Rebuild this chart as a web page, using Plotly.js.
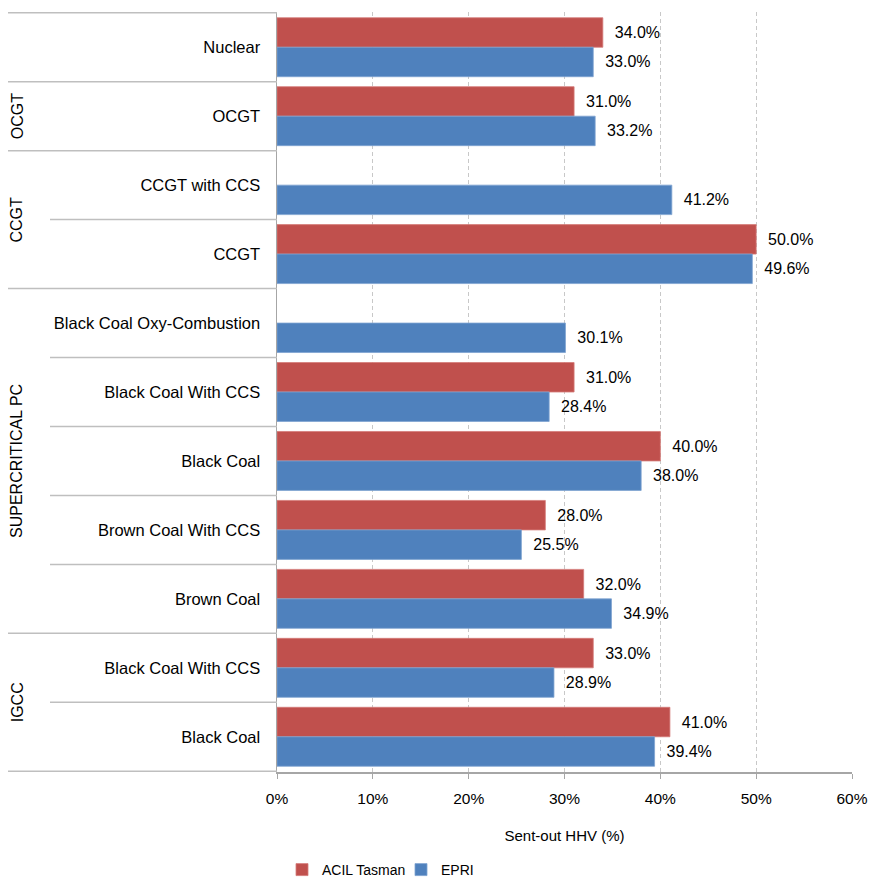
<!DOCTYPE html>
<html>
<head>
<meta charset="utf-8">
<script src="https://cdn.plot.ly/plotly-3.0.1.min.js"></script>
<style>html,body{margin:0;padding:0;background:#fff;}#chart{width:872px;height:877px;}</style>
</head>
<body>
<div id="chart"></div>
<script>
// ---- Data ----
const categories = ['Nuclear', 'OCGT', 'CCGT with CCS', 'CCGT', 'Black Coal Oxy-Combustion',
  'Black Coal With CCS', 'Black Coal', 'Brown Coal With CCS', 'Brown Coal',
  'Black Coal With CCS', 'Black Coal'];
const groups = ['', 'OCGT', 'CCGT', 'CCGT', 'SUPERCRITICAL PC', 'SUPERCRITICAL PC',
  'SUPERCRITICAL PC', 'SUPERCRITICAL PC', 'SUPERCRITICAL PC', 'IGCC', 'IGCC'];
const acilTasman = [34.0, 31.0, null, 50.0, null, 31.0, 40.0, 28.0, 32.0, 33.0, 41.0];
const epri = [33.0, 33.2, 41.2, 49.6, 30.1, 28.4, 38.0, 25.5, 34.9, 28.9, 39.4];
const xTicks = [0, 10, 20, 30, 40, 50, 60];

// unique keys for the category axis
const keys = categories.map((c, i) => groups[i] + ' | ' + c);

const FONT = 'Liberation Sans, Arial, sans-serif';
const RED = '#C0504D', BLUE = '#4F81BD';

const traces = [
  {
    type: 'bar', orientation: 'h', name: 'ACIL Tasman',
    y: keys, x: acilTasman,
    marker: {color: RED, line: {color: '#D47B78', width: 0.8}},
    texttemplate: '\u00a0\u00a0%{x:.1f}%', textposition: 'outside', cliponaxis: false,
    textfont: {family: FONT, size: 16, color: '#000'}, hoverinfo: 'x+y'
  },
  {
    type: 'bar', orientation: 'h', name: 'EPRI',
    y: keys, x: epri,
    marker: {color: BLUE, line: {color: '#7FA3D1', width: 0.8}},
    texttemplate: '\u00a0\u00a0%{x:.1f}%', textposition: 'outside', cliponaxis: false,
    textfont: {family: FONT, size: 16, color: '#000'}, hoverinfo: 'x+y'
  }
];

// separators and group labels
const plotLeft = 277, plotW = 575;
const pxToPaper = px => (px - plotLeft) / plotW;
const shapes = [];
const n = categories.length;
for (let i = 0; i <= n; i++) {
  const full = (i === 0 || i === n || groups[i] !== groups[i - 1]);
  shapes.push({
    type: 'line', xref: 'paper', yref: 'y',
    x0: pxToPaper(full ? 8 : 50), x1: 0, y0: i - 0.5, y1: i - 0.5,
    line: {color: '#BFBFBF', width: 1.5}
  });
}
const annotations = [];
const seen = {};
groups.forEach((g, i) => {
  if (!g) return;
  if (!seen[g]) seen[g] = [i, i]; else seen[g][1] = i;
});
Object.keys(seen).forEach(g => {
  const [a, b] = seen[g];
  annotations.push({
    xref: 'paper', yref: 'y', x: pxToPaper(17), y: (a + b) / 2,
    text: g, textangle: -90, showarrow: false,
    xanchor: 'center', yanchor: 'middle',
    font: {family: FONT, size: 16, color: '#000'}
  });
});

const layout = {
  width: 872, height: 877,
  margin: {l: 277, r: 20, t: 12, b: 105, autoexpand: false},
  paper_bgcolor: '#fff', plot_bgcolor: '#fff',
  font: {family: FONT, size: 15, color: '#000'},
  barmode: 'group', bargap: 0.145, bargroupgap: 0,
  showlegend: true,
  legend: {
    orientation: 'h', xref: 'container', yref: 'container',
    x: 282 / 872, y: 7 / 877, xanchor: 'left', yanchor: 'middle',
    font: {family: FONT, size: 14, color: '#000'}, itemwidth: 30,
    entrywidth: 74, entrywidthmode: 'pixels', traceorder: 'normal'
  },
  xaxis: {
    range: [0, 60], tickvals: xTicks, ticktext: xTicks.map(v => v + '%'),
    showgrid: true, gridcolor: '#C8C8C8', griddash: '4px,3px', gridwidth: 1,
    zeroline: false, showline: true, linecolor: '#A6A6A6', linewidth: 1.5,
    ticks: 'outside', ticklen: 5, tickcolor: '#A6A6A6', ticklabelstandoff: 7,
    tickfont: {family: FONT, size: 15.5, color: '#000'},
    automargin: false,
    title: {text: 'Sent-out HHV (%)', font: {family: FONT, size: 15, color: '#000'}, standoff: 24},
    fixedrange: true
  },
  yaxis: {
    type: 'category', categoryorder: 'array', categoryarray: keys,
    tickvals: keys, ticktext: categories, autorange: 'reversed',
    showgrid: false, zeroline: false, showline: true, linecolor: '#A6A6A6', linewidth: 1.5,
    ticks: '', ticklabelstandoff: 12, automargin: false,
    tickfont: {family: FONT, size: 16.5, color: '#000'},
    fixedrange: true
  },
  shapes: shapes,
  annotations: annotations
};

Plotly.newPlot('chart', traces, layout, {displayModeBar: false, staticPlot: true});
</script>
</body>
</html>
